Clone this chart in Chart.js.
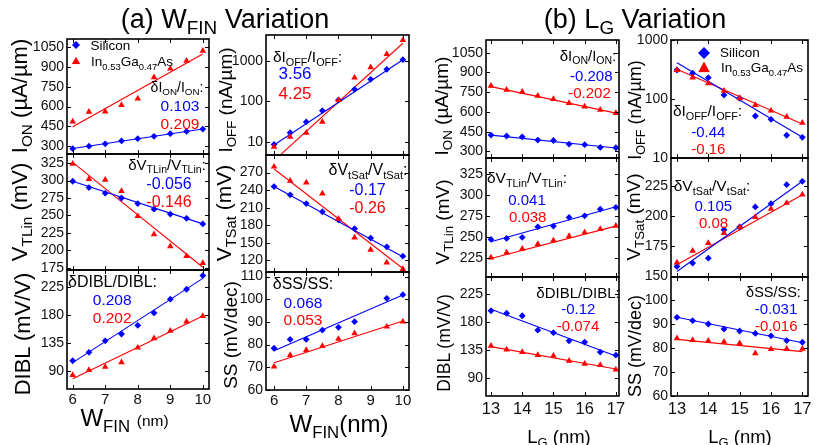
<!DOCTYPE html>
<html>
<head>
<meta charset="utf-8">
<script src="https://cdn.jsdelivr.net/npm/chart.js@4.4.1/dist/chart.umd.min.js"></script>
<style>
html, body { margin: 0; padding: 0; background: #fff; }
#fig { position: relative; width: 823px; height: 445px; overflow: hidden;
       font-family: "Liberation Sans", Arial, Helvetica, sans-serif; color: #000; }
#fig canvas { position: absolute; }
.t { position: absolute; white-space: nowrap; line-height: 1; z-index: 2; }
.c { transform: translate(-50%, -50%); }
.rot { transform: translate(-50%, -50%) rotate(-90deg); }
.t sub { font-size: 0.7em; vertical-align: -0.35em; line-height: 0; }
.mk { position: absolute; z-index: 2; transform: translate(-50%, -50%); }
</style>
</head>
<body>
<div id="fig"></div>
<script>
// ---- sweep positions ----
const wfin   = [6, 6.5, 7, 7.5, 8, 8.5, 9, 9.5, 10];
const wfinSS = [6, 6.5, 7, 7.5, 8, 8.5, 9.5, 10];
const lg     = [13, 13.5, 14, 14.5, 15, 15.5, 16, 16.5, 17];
const wfinEnds = [6, 10];
const lgEnds   = [13, 17];

// ---- tick values ----
const wfinTicks   = [6, 7, 8, 9, 10];
const lgTicks     = [13, 14, 15, 16, 17];
const ionTicks    = [300, 450, 600, 750, 900, 1050];
const ioffTicks   = [10, 100, 1000];
const vtlinTicksW = [175, 200, 225, 250, 275, 300, 325];
const vtsatTicksW = [120, 150, 180, 210, 240, 270];
const diblTicks   = [90, 135, 180, 225];
const ssTicksW    = [60, 70, 80, 90, 100, 110];
const vtlinTicksL = [225, 250, 275, 300, 325];
const vtsatTicksL = [150, 175, 200, 225];
const ssTicksL    = [60, 70, 80, 90, 100];

// ---- (a) fin-width sweep: Silicon / In0.53Ga0.47As ----
const ionW_si        = [281, 300, 318, 340, 357, 375, 395, 412, 430];
const ionW_ingaas    = [487, 560, 562, 612, 660, 822, 887, 947, 1022];
const ionW_siFit     = [283, 430];
const ionW_ingaasFit = [448, 998];

const ioffW_si        = [8.6, 16.7, 31, 59, 108, 199, 352, 622, 1077];
const ioffW_ingaas    = [7.5, 13.3, 16.7, 31, 108, 386, 698, 1490, 3310];
const ioffW_siFit     = [8.3, 1070];
const ioffW_ingaasFit = [3.4, 2750];

const vtlinW_si        = [299, 290, 282, 275, 267, 259, 252, 246, 238];
const vtlinW_ingaas    = [324, 302, 301, 285, 249, 223, 206, 192, 182];
const vtlinW_siFit     = [299, 238];
const vtlinW_ingaasFit = [326, 176];

const vtsatW_si        = [246, 232, 217, 203, 189, 174, 158, 143, 127];
const vtsatW_ingaas    = [280, 256, 253, 234, 191, 159, 138, 116, 105];
const vtsatW_siFit     = [246, 126];
const vtsatW_ingaasFit = [276, 106];

const diblW_si        = [106, 119.5, 138, 149, 163, 183, 205, 221, 243];
const diblW_ingaas    = [83, 91, 96, 103.5, 127, 142, 154, 169, 178];
const diblW_siFit     = [103, 238.5];
const diblW_ingaasFit = [77, 178];

const ssW_si        = [78.4, 82.3, 82.3, 86.4, 87.6, 90.1, 100.4, 102];
const ssW_ingaas    = [70.3, 75.4, 77.6, 79.4, 82.5, 85, 87.9, 90.1];
const ssW_siFit     = [77.3, 101.9];
const ssW_ingaasFit = [72, 90.4];

// ---- (b) gate-length sweep ----
const ionL_si        = [424, 417, 411, 386, 383, 356, 351, 330, 328];
const ionL_ingaas    = [798, 767, 752, 722, 697, 667, 641, 616, 591];
const ionL_siFit     = [424, 326];
const ionL_ingaasFit = [792, 591];

const ioffL_si        = [310, 273, 230, 117, 103, 51.5, 45.3, 24.3, 22.4];
const ioffL_ingaas    = [310, 230, 185, 138, 103, 79, 63.4, 50, 39.6];
const ioffL_siFit     = [412, 22.4];
const ioffL_ingaasFit = [318, 37.7];

const vtlinL_si        = [247.5, 248.7, 250, 262.5, 263.3, 273.6, 275.5, 283.4, 285.4];
const vtlinL_ingaas    = [226, 232, 236.4, 242, 246.3, 251.4, 255.8, 259.8, 263.7];
const vtlinL_siFit     = [244.7, 286.2];
const vtlinL_ingaasFit = [225, 263.3];

const vtsatL_si        = [157.8, 160.6, 164.7, 188.3, 190.6, 207.3, 210, 225.8, 228.6];
const vtsatL_ingaas    = [161, 170.8, 177.2, 185.6, 190.3, 198.9, 205.6, 210.6, 217.5];
const vtsatL_siFit     = [153.6, 228.6];
const vtsatL_ingaasFit = [159.2, 217.5];

const diblL_si        = [198, 194, 190, 167, 163, 150, 148, 132, 127];
const diblL_ingaas    = [142, 136, 132, 127, 126, 118, 113, 111, 104];
const diblL_siFit     = [200.5, 125.7];
const diblL_ingaasFit = [140.6, 105];

const ssL_si        = [92.8, 91.4, 90, 87.9, 87.1, 86.1, 85.1, 83.1, 82.4];
const ssL_ingaas    = [84, 83.3, 83, 82.6, 82, 77.8, 79.5, 79.7, 79.7];
const ssL_siFit     = [92.8, 82.2];
const ssL_ingaasFit = [83.6, 78.5];

// ---- drawing ----
const BLUE = '#0000ff', RED = '#ff0000';
const FONT = '"Liberation Sans", Arial, Helvetica, sans-serif';
const fig = document.getElementById('fig');
const YW = 46, PT = 12, PR = 12;

// closed frame with inward ticks on all four sides
const frame = {
  id: 'frame',
  afterDatasetsDraw(chart) {
    const {ctx, chartArea: a, scales: {x, y}} = chart;
    const L = 4;
    ctx.save();
    ctx.strokeStyle = '#000';
    ctx.lineWidth = 1;
    ctx.beginPath();
    x.ticks.forEach(t => {
      const px = Math.round(x.getPixelForValue(t.value)) + 0.5;
      ctx.moveTo(px, a.bottom); ctx.lineTo(px, a.bottom - L);
      ctx.moveTo(px, a.top); ctx.lineTo(px, a.top + L);
    });
    y.ticks.forEach(t => {
      const py = Math.round(y.getPixelForValue(t.value)) + 0.5;
      ctx.moveTo(a.left, py); ctx.lineTo(a.left + L, py);
      ctx.moveTo(a.right, py); ctx.lineTo(a.right - L, py);
    });
    ctx.stroke();
    ctx.lineWidth = 1.6;
    ctx.strokeRect(a.left, a.top, a.right - a.left, a.bottom - a.top);
    ctx.restore();
  }
};

function points(xs, ys, color, style, r) {
  return { data: xs.map((x, i) => ({x, y: ys[i]})), showLine: false,
           pointStyle: style, pointRadius: r, pointHoverRadius: r,
           backgroundColor: color, borderColor: color, borderWidth: 0, clip: false };
}
function fit(xs, ys, color) {
  return { data: xs.map((x, i) => ({x, y: ys[i]})), showLine: true,
           pointRadius: 0, borderColor: color, backgroundColor: color, borderWidth: 1.1 };
}

function makePanel(p) {
  const b = p.box;
  const XH = p.xLabels ? p.xh : 0;
  const PB = p.xLabels ? 2 : 10;
  const w = b.r - b.l + YW + PR;
  const h = b.b - b.t + PT + XH + PB;
  const cv = document.createElement('canvas');
  cv.width = w; cv.height = h;
  cv.style.left = (b.l - YW) + 'px';
  cv.style.top = (b.t - PT) + 'px';
  cv.style.width = w + 'px';
  cv.style.height = h + 'px';
  fig.appendChild(cv);
  new Chart(cv, {
    type: 'scatter',
    data: { datasets: [
      points(p.xs, p.iga, RED, 'triangle', 3.8),
      points(p.xs, p.si, BLUE, 'rectRot', 3.4),
      fit(p.fx, p.siFit, BLUE),
      fit(p.fx, p.igaFit, RED)
    ]},
    options: {
      responsive: false, animation: false, devicePixelRatio: 1,
      layout: { padding: { left: 0, top: PT, right: PR, bottom: PB } },
      plugins: { legend: { display: false }, tooltip: { enabled: false } },
      events: [],
      scales: {
        x: {
          type: 'linear', min: p.x.min, max: p.x.max,
          afterBuildTicks: s => { s.ticks = p.x.ticks.map(v => ({value: v})); },
          afterFit: s => { s.height = XH; s.paddingLeft = 0; s.paddingRight = 0; },
          ticks: { display: !!p.xLabels, color: '#111', padding: p.xpad || 2,
                   maxRotation: 0, autoSkip: false, callback: v => String(v),
                   font: { family: FONT, size: p.xfont || 15 } },
          grid: { display: false, drawTicks: false }, border: { display: false }
        },
        y: {
          type: p.y.log ? 'logarithmic' : 'linear', min: p.y.min, max: p.y.max,
          afterBuildTicks: s => { s.ticks = p.y.ticks.map(v => ({value: v})); },
          afterFit: s => { s.width = YW; s.paddingTop = 0; s.paddingBottom = 0; },
          ticks: { color: '#111', padding: 3, autoSkip: false, callback: v => String(v),
                   font: { family: FONT, size: 14 } },
          grid: { display: false, drawTicks: false }, border: { display: false }
        }
      }
    },
    plugins: [frame]
  });
}

const axA_L = { min: 5.825, max: 10.19, ticks: wfinTicks };
const axA_R = { min: 5.75,  max: 10.19, ticks: wfinTicks };
const axB_L = { min: 12.84, max: 17.1,  ticks: lgTicks };
const axB_R = { min: 12.81, max: 17.18, ticks: lgTicks };

[
  { box: {l: 67, t: 38.5, r: 209, b: 154}, x: axA_L, y: {min: 241, max: 1112, ticks: ionTicks},
    xs: wfin, fx: wfinEnds, si: ionW_si, iga: ionW_ingaas, siFit: ionW_siFit, igaFit: ionW_ingaasFit },
  { box: {l: 266, t: 35, r: 409, b: 155}, x: axA_R, y: {log: true, min: 4.7, max: 4400, ticks: ioffTicks},
    xs: wfin, fx: wfinEnds, si: ioffW_si, iga: ioffW_ingaas, siFit: ioffW_siFit, igaFit: ioffW_ingaasFit },
  { box: {l: 67, t: 154, r: 209, b: 270}, x: axA_L, y: {min: 172, max: 338, ticks: vtlinTicksW},
    xs: wfin, fx: wfinEnds, si: vtlinW_si, iga: vtlinW_ingaas, siFit: vtlinW_siFit, igaFit: vtlinW_ingaasFit },
  { box: {l: 266, t: 155, r: 409, b: 272}, x: axA_R, y: {min: 100, max: 300, ticks: vtsatTicksW},
    xs: wfin, fx: wfinEnds, si: vtsatW_si, iga: vtsatW_ingaas, siFit: vtsatW_siFit, igaFit: vtsatW_ingaasFit },
  { box: {l: 67, t: 270, r: 209, b: 389}, x: axA_L, y: {min: 60.5, max: 252, ticks: diblTicks},
    xLabels: true, xh: 22, xfont: 15,
    xs: wfin, fx: wfinEnds, si: diblW_si, iga: diblW_ingaas, siFit: diblW_siFit, igaFit: diblW_ingaasFit },
  { box: {l: 266, t: 272, r: 409, b: 390}, x: axA_R, y: {min: 60, max: 112, ticks: ssTicksW},
    xLabels: true, xh: 22, xfont: 15,
    xs: wfinSS, fx: wfinEnds, si: ssW_si, iga: ssW_ingaas, siFit: ssW_siFit, igaFit: ssW_ingaasFit },
  { box: {l: 486, t: 40, r: 619, b: 158}, x: axB_L, y: {min: 250, max: 1146, ticks: ionTicks},
    xs: lg, fx: lgEnds, si: ionL_si, iga: ionL_ingaas, siFit: ionL_siFit, igaFit: ionL_ingaasFit },
  { box: {l: 671, t: 40, r: 808, b: 158}, x: axB_R, y: {log: true, min: 10, max: 1000, ticks: ioffTicks},
    xs: lg, fx: lgEnds, si: ioffL_si, iga: ioffL_ingaas, siFit: ioffL_siFit, igaFit: ioffL_ingaasFit },
  { box: {l: 486, t: 158, r: 619, b: 277}, x: axB_L, y: {min: 203, max: 344, ticks: vtlinTicksL},
    xs: lg, fx: lgEnds, si: vtlinL_si, iga: vtlinL_ingaas, siFit: vtlinL_siFit, igaFit: vtlinL_ingaasFit },
  { box: {l: 671, t: 158, r: 808, b: 277}, x: axB_R, y: {min: 149, max: 248, ticks: vtsatTicksL},
    xs: lg, fx: lgEnds, si: vtsatL_si, iga: vtsatL_ingaas, siFit: vtsatL_siFit, igaFit: vtsatL_ingaasFit },
  { box: {l: 486, t: 277, r: 619, b: 396}, x: axB_L, y: {min: 61.7, max: 252, ticks: diblTicks},
    xLabels: true, xh: 26, xfont: 16.5, xpad: 4,
    xs: lg, fx: lgEnds, si: diblL_si, iga: diblL_ingaas, siFit: diblL_siFit, igaFit: diblL_ingaasFit },
  { box: {l: 671, t: 277, r: 808, b: 396}, x: axB_R, y: {min: 60, max: 109.6, ticks: ssTicksL},
    xLabels: true, xh: 26, xfont: 16.5, xpad: 4,
    xs: lg, fx: lgEnds, si: ssL_si, iga: ssL_ingaas, siFit: ssL_siFit, igaFit: ssL_ingaasFit }
].forEach(makePanel);

// ---- text ----
function text(html, x, y, size, opt = {}) {
  const d = document.createElement('div');
  d.className = 't ' + (opt.rot ? 'rot' : 'c');
  d.style.left = x + 'px';
  d.style.top = y + 'px';
  d.style.fontSize = size + 'px';
  if (opt.color) d.style.color = opt.color;
  d.innerHTML = html;
  fig.appendChild(d);
}
function marker(shape, x, y, s, color) {
  const d = document.createElement('div');
  d.className = 'mk';
  d.style.left = x + 'px'; d.style.top = y + 'px';
  d.style.width = s + 'px'; d.style.height = (shape === 'tri' ? s * 0.9 : s) + 'px';
  d.style.background = color;
  d.style.clipPath = shape === 'tri'
    ? 'polygon(50% 0, 100% 100%, 0 100%)'
    : 'polygon(50% 0, 100% 50%, 50% 100%, 0 50%)';
  fig.appendChild(d);
}

// titles
text('(a) W<sub>FIN</sub> Variation', 225, 19, 27);
text('(b) L<sub>G</sub> Variation', 635, 19, 27);

// y-axis titles
text('I<sub>ON</sub> (&micro;A/&micro;m)', 20, 96, 22, {rot: true});
text('I<sub>OFF</sub> (nA/&micro;m)', 225, 100, 19, {rot: true});
text('V<sub>TLin</sub> (mV)', 20, 212, 22, {rot: true});
text('V<sub>TSat</sub> (mV)', 223, 213, 21, {rot: true});
text('DIBL (mV/V)', 23, 334, 22, {rot: true});
text('SS (mV/dec)', 230, 335, 19, {rot: true});
text('I<sub>ON</sub> (&micro;A/&micro;m)', 441, 106, 19, {rot: true});
text('I<sub>OFF</sub> (nA/&micro;m)', 635, 110, 18, {rot: true});
text('V<sub>TLin</sub> (mV)', 442, 222, 19, {rot: true});
text('V<sub>TSat</sub> (mV)', 633, 217, 19, {rot: true});
text('DIBL (mV/V)', 445, 343, 17.5, {rot: true});
text('SS (mV/dec)', 635, 346, 18, {rot: true});

// x-axis titles
text('W<sub>FIN</sub> <span style="font-size:15.5px">(nm)</span>', 124.5, 418, 24);
text('W<sub>FIN</sub>(nm)', 339, 424, 24);
text('L<sub>G</sub> (nm)', 559, 437, 18.5);
text('L<sub>G</sub> (nm)', 740, 437, 18.5);

// legends
marker('dia', 76, 45, 8, BLUE);
text('Silicon', 110.5, 45.5, 13.5);
marker('tri', 76, 60.5, 8.5, RED);
text('In<sub>0.53</sub>Ga<sub>0.47</sub>As', 132, 62, 13.5);
marker('dia', 704, 53, 12, BLUE);
text('Silicon', 740, 53, 13.5);
marker('tri', 704, 67, 12, RED);
text('In<sub>0.53</sub>Ga<sub>0.47</sub>As', 762, 68, 13.5);

// sensitivity annotations
text('&delta;I<sub>ON</sub>/I<sub>ON</sub>:', 177, 87, 14);
text('0.103', 180, 106, 15.5, {color: BLUE});
text('0.209', 180, 123.7, 15.5, {color: RED});

text('&delta;I<sub>OFF</sub>/I<sub>OFF</sub>:', 307.5, 57, 15.5);
text('3.56', 295, 72.5, 17, {color: BLUE});
text('4.25', 295, 93, 17, {color: RED});

text('&delta;V<sub>TLin</sub>/V<sub>TLin</sub>:', 167, 163.5, 15);
text('-0.056', 169, 184.3, 16, {color: BLUE});
text('-0.146', 169, 202, 16, {color: RED});

text('&delta;V<sub>tSat</sub>/V<sub>tSat</sub>:', 368, 169.5, 16);
text('-0.17', 367.5, 190, 16, {color: BLUE});
text('-0.26', 367.5, 208.3, 16, {color: RED});

text('&delta;DIBL/DIBL:', 112.5, 282.3, 16);
text('0.208', 112.2, 300.3, 15.5, {color: BLUE});
text('0.202', 112.2, 318.3, 15.5, {color: RED});

text('&delta;SS/SS:', 303, 284.3, 16);
text('0.068', 303, 303, 15.5, {color: BLUE});
text('0.053', 303, 320, 15.5, {color: RED});

text('&delta;I<sub>ON</sub>/I<sub>ON</sub>:', 588, 55, 15);
text('-0.208', 591.3, 75, 15, {color: BLUE});
text('-0.202', 589.5, 91.7, 15, {color: RED});

text('&delta;I<sub>OFF</sub>/I<sub>OFF</sub>:', 707.5, 111, 15.5);
text('-0.44', 708.3, 130.5, 15, {color: BLUE});
text('-0.16', 708.3, 148.3, 15, {color: RED});

text('&delta;V<sub>TLin</sub>/V<sub>TLin</sub>:', 527, 177.5, 15.5);
text('0.041', 527, 198.7, 15, {color: BLUE});
text('0.038', 527.7, 215.7, 15, {color: RED});

text('&delta;V<sub>tSat</sub>/V<sub>tSat</sub>:', 712, 185.5, 15.5);
text('0.105', 713.3, 204.7, 15, {color: BLUE});
text('0.08', 713.5, 222, 15, {color: RED});

text('&delta;DIBL/DIBL:', 578, 291.7, 15);
text('-0.12', 578.3, 308, 15, {color: BLUE});
text('-0.074', 578, 325.3, 15, {color: RED});

text('&delta;SS/SS:', 773.5, 291.7, 14.5);
text('-0.031', 776, 308, 15, {color: BLUE});
text('-0.016', 776.3, 325.3, 15, {color: RED});
</script>
</body>
</html>
